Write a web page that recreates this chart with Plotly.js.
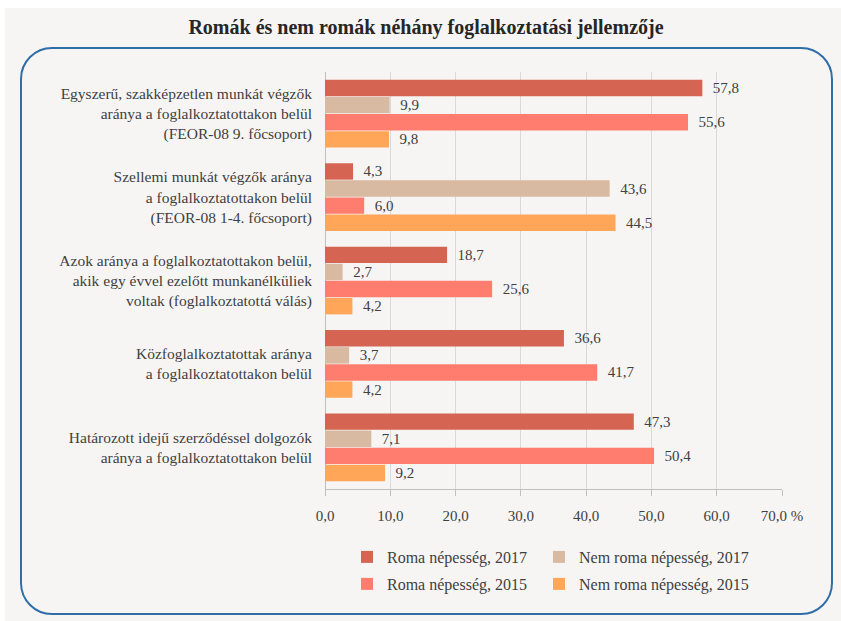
<!DOCTYPE html>
<html>
<head>
<meta charset="utf-8">
<script src="https://cdn.plot.ly/plotly-3.0.1.min.js"></script>
<style>
  html, body { margin:0; padding:0; background:#ffffff; width:841px; height:621px; overflow:hidden; }
  #bg { position:absolute; left:5px; top:8px; width:836px; height:613px; background:#f7f5f4; }
  #frame { position:absolute; left:20px; top:47px; width:813px; height:568px; border:2px solid #2f6da6; border-radius:32px; box-sizing:border-box; }
  #chart { position:absolute; left:0; top:0; width:841px; height:621px; }
</style>
</head>
<body>
<div id="bg"></div>
<div id="frame"></div>
<div id="chart"></div>
<script>
const categories = [
  "Egyszerű, szakképzetlen munkát végzők<br>aránya a foglalkoztatottakon belül<br>(FEOR-08 9. főcsoport)",
  "Szellemi munkát végzők aránya<br>a foglalkoztatottakon belül<br>(FEOR-08 1-4. főcsoport)",
  "Azok aránya a foglalkoztatottakon belül,<br>akik egy évvel ezelőtt munkanélküliek<br>voltak (foglalkoztatottá válás)",
  "Közfoglalkoztatottak aránya<br>a foglalkoztatottakon belül",
  "Határozott idejű szerződéssel dolgozók<br>aránya a foglalkoztatottakon belül"
];
const seriesNames = ["Roma népesség, 2017", "Nem roma népesség, 2017", "Roma népesség, 2015", "Nem roma népesség, 2015"];
const roma2017 = [57.8, 4.3, 18.7, 36.6, 47.3];
const nemRoma2017 = [9.9, 43.6, 2.7, 3.7, 7.1];
const roma2015 = [55.6, 6.0, 25.6, 41.7, 50.4];
const nemRoma2015 = [9.8, 44.5, 4.2, 4.2, 9.2];
const tickVals = [0, 10, 20, 30, 40, 50, 60, 70];
const tickText = ["0,0", "10,0", "20,0", "30,0", "40,0", "50,0", "60,0", "70,0 %"];

const colors = ["#d66452", "#d8b9a1", "#ff7d6e", "#ffa658"];
const values = [roma2017, nemRoma2017, roma2015, nemRoma2015];
const legendIds = ["legend", "legend2", "legend3", "legend4"];
const serif = "Liberation Serif, Times New Roman, serif";

const W = 841, H = 621, ML = 325, MR = 59, MT = 72, MB = 132;
const PW = W - ML - MR, PH = H - MT - MB;
const px2x = p => (p - ML) / PW;
const py2y = p => (H - MB - p) / PH;

const traces = values.map((v, i) => ({
  type: "bar",
  orientation: "h",
  name: seriesNames[i],
  x: v,
  y: categories,
  marker: { color: colors[i], line: { width: 0 } },
  text: v,
  texttemplate: "  %{x:.1f}",
  textposition: "outside",
  cliponaxis: false,
  textfont: { family: serif, size: 15, color: "#404040" },
  hoverinfo: "skip",
  legend: legendIds[i]
}));

function leg(px, py) {
  return { x: px2x(px), y: py2y(py), xref: "paper", yref: "paper", xanchor: "left", yanchor: "middle",
    bgcolor: "rgba(0,0,0,0)", font: { family: serif, size: 16, color: "#404040" } };
}

const layout = {
  width: W, height: H,
  paper_bgcolor: "rgba(0,0,0,0)",
  plot_bgcolor: "rgba(0,0,0,0)",
  separators: ", ",
  margin: { l: ML, r: MR, t: MT, b: MB },
  barmode: "group",
  bargap: 0.18,
  bargroupgap: 0.04,
  title: {
    text: "<b>Romák és nem romák néhány foglalkoztatási jellemzője</b>",
    font: { family: serif, size: 20, color: "#262626" },
    x: 426 / W, xref: "container", xanchor: "center",
    y: 1 - 27 / H, yref: "container", yanchor: "middle"
  },
  xaxis: {
    range: [0, 70],
    tickvals: tickVals,
    ticktext: tickText,
    showgrid: true, gridcolor: "#d9d9d9", gridwidth: 1,
    zeroline: true, zerolinecolor: "#bfbfbf", zerolinewidth: 1,
    showline: true, linecolor: "#bfbfbf", linewidth: 1,
    ticks: "outside", ticklen: 6, tickcolor: "#bfbfbf",
    ticklabelstandoff: 7,
    tickfont: { family: serif, size: 15, color: "#404040" },
    fixedrange: true
  },
  yaxis: {
    autorange: "reversed",
    showgrid: false, showline: false, ticks: "",
    ticklabelstandoff: 12,
    tickfont: { family: serif, size: 15.5, color: "#404040" },
    fixedrange: true
  },
  showlegend: true,
  legend: leg(347, 557),
  legend2: leg(539, 557),
  legend3: leg(347, 584),
  legend4: leg(539, 584)
};

Plotly.newPlot("chart", traces, layout, { displayModeBar: false, staticPlot: true });
</script>
</body>
</html>
